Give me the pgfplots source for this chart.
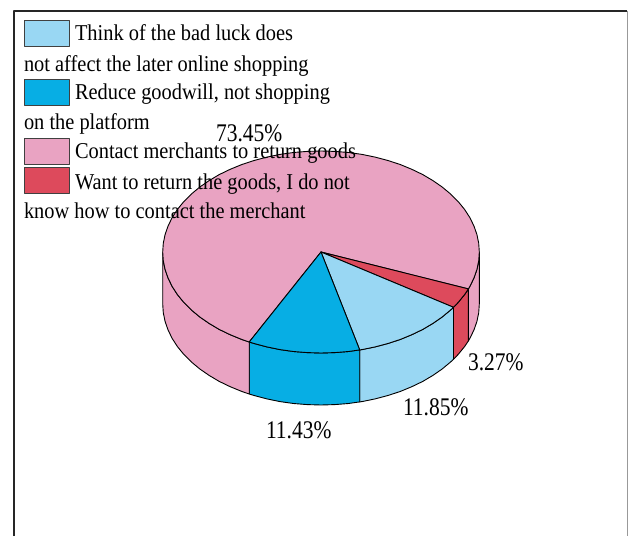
\documentclass[border=0pt]{standalone}
\usepackage{pgfplots}
\pgfplotsset{compat=1.18}
\usepackage{fontspec}
\setmainfont{Liberation Serif}
\definecolor{lightslice}{HTML}{99D7F3}
\definecolor{blueslice}{HTML}{07AEE4}
\definecolor{pinkslice}{HTML}{E9A3C2}
\definecolor{redslice}{HTML}{DD4A5C}
% narrow, tall setting of the serif text
\newcommand{\legtext}[1]{\scalebox{1}[1.11]{#1}}
\newcommand{\valtext}[1]{\scalebox{1}[1.18]{#1}}
\begin{document}
\begin{tikzpicture}
\begin{axis}[
  scale only axis, width=628pt, height=536pt,
  xmin=0, xmax=628, ymin=0, ymax=536, y dir=reverse,
  hide axis, clip=false,
  every axis plot/.append style={line width=0.9pt, line join=round},
]
% page extent
\path (axis cs:0,0) rectangle (axis cs:628,536);
% outer frame
\addplot[black!85, line width=1.4pt] coordinates {(14,536) (14,11) (627,11)};
\addplot[black!40, line width=0.8pt] coordinates {(627,11) (627,536)};

% side walls, bottom edge is the top edge shifted down by 52
\addplot[draw=black, fill=pinkslice] coordinates {
 (479.3,252) (478.7,260.8) (476.9,269.5) (473.9,278.1) (469.8,286.5) (468.4,288.9)
 (468.4,340.9) (469.8,338.5) (473.9,330.1) (476.9,321.5) (478.7,312.8) (479.3,304)} -- cycle;
\addplot[draw=black, fill=redslice] coordinates {
 (468.4,288.9) (464.5,294.7) (458.1,302.5) (453.5,307.3)
 (453.5,359.3) (458.1,354.5) (464.5,346.7) (468.4,340.9)} -- cycle;
\addplot[draw=black, fill=lightslice] coordinates {
 (453.5,307.3) (450.7,309.9) (442.3,316.9) (432.9,323.4) (422.8,329.4) (411.8,334.7)
 (400.2,339.5) (387.9,343.5) (375.1,346.9) (362.0,349.6) (359.7,349.9)
 (359.7,401.9) (362.0,401.6) (375.1,398.9) (387.9,395.5) (400.2,391.5) (411.8,386.7)
 (422.8,381.4) (432.9,375.4) (442.3,368.9) (450.7,361.9) (453.5,359.3)} -- cycle;
\addplot[draw=black, fill=blueslice] coordinates {
 (359.7,349.9) (348.5,351.5) (334.8,352.6) (321,353) (307.2,352.6) (293.5,351.5)
 (280.0,349.6) (266.9,346.9) (254.1,343.5) (249.2,342.0)
 (249.2,394.0) (254.1,395.5) (266.9,398.9) (280.0,401.6) (293.5,403.5) (307.2,404.6)
 (321,405) (334.8,404.6) (348.5,403.5) (359.7,401.9)} -- cycle;
\addplot[draw=black, fill=pinkslice] coordinates {
 (249.2,342.0) (241.9,339.5) (230.2,334.7) (219.2,329.4) (209.1,323.4) (199.7,316.9)
 (191.3,309.9) (183.9,302.5) (177.5,294.7) (172.2,286.5) (168.1,278.1) (165.1,269.5)
 (163.3,260.8) (162.7,252)
 (162.7,304) (163.3,312.8) (165.1,321.5) (168.1,330.1) (172.2,338.5) (177.5,346.7)
 (183.9,354.5) (191.3,361.9) (199.7,368.9) (209.1,375.4) (219.2,381.4) (230.2,386.7)
 (241.9,391.5) (249.2,394.0)} -- cycle;

% top faces: 73.45, 3.27, 11.85 and 11.43 percent
\addplot[draw=black, fill=pinkslice] coordinates {
 (321,252) (249.2,342.0) (241.9,339.5) (230.2,334.7) (219.2,329.4) (209.1,323.4)
 (199.7,316.9) (191.3,309.9) (183.9,302.5) (177.5,294.7) (172.2,286.5) (168.1,278.1)
 (165.1,269.5) (163.3,260.8) (162.7,252) (163.3,243.2) (165.1,234.5) (168.1,225.9)
 (172.2,217.5) (177.5,209.3) (183.9,201.5) (191.3,194.1) (199.7,187.1) (209.1,180.6)
 (219.2,174.6) (230.2,169.3) (241.9,164.5) (254.1,160.5) (266.9,157.1) (280.0,154.4)
 (293.5,152.5) (307.2,151.4) (321,151) (334.8,151.4) (348.5,152.5) (362.0,154.4)
 (375.1,157.1) (387.9,160.5) (400.2,164.5) (411.8,169.3) (422.8,174.6) (432.9,180.6)
 (442.3,187.1) (450.7,194.1) (458.1,201.5) (464.5,209.3) (469.8,217.5) (473.9,225.9)
 (476.9,234.5) (478.7,243.2) (479.3,252) (478.7,260.8) (476.9,269.5) (473.9,278.1)
 (469.8,286.5) (468.4,288.9)} -- cycle;
\addplot[draw=black, fill=redslice] coordinates {
 (321,252) (468.4,288.9) (464.5,294.7) (458.1,302.5) (453.5,307.3)} -- cycle;
\addplot[draw=black, fill=lightslice] coordinates {
 (321,252) (453.5,307.3) (450.7,309.9) (442.3,316.9) (432.9,323.4) (422.8,329.4)
 (411.8,334.7) (400.2,339.5) (387.9,343.5) (375.1,346.9) (362.0,349.6) (359.7,349.9)} -- cycle;
\addplot[draw=black, fill=blueslice] coordinates {
 (321,252) (359.7,349.9) (348.5,351.5) (334.8,352.6) (321,353) (307.2,352.6) (293.5,351.5)
 (280.0,349.6) (266.9,346.9) (254.1,343.5) (249.2,342.0)} -- cycle;

% legend swatches
\addplot[draw=black!75, fill=lightslice] coordinates {(24,20) (69,20) (69,46) (24,46)} -- cycle;
\addplot[draw=black!75, fill=blueslice] coordinates {(24,79) (69,79) (69,105) (24,105)} -- cycle;
\addplot[draw=black!75, fill=pinkslice] coordinates {(24,138) (69,138) (69,164) (24,164)} -- cycle;
\addplot[draw=black!75, fill=redslice] coordinates {(24,167) (69,167) (69,193) (24,193)} -- cycle;

\tikzset{
  lab/.style={anchor=base west, inner sep=0pt, outer sep=0pt, text=black,
    font=\fontsize{21.5}{25}\selectfont},
  leg/.style={lab, font=\fontsize{20.4}{25}\selectfont}}
% legend text
\node[leg] at (axis cs:75,41) {\legtext{Think of the bad luck does}};
\node[leg] at (axis cs:24,72) {\legtext{not affect the later online shopping}};
\node[leg] at (axis cs:75,100) {\legtext{Reduce goodwill, not shopping}};
\node[leg] at (axis cs:24,130) {\legtext{on the platform}};
\node[leg] at (axis cs:75,159) {\legtext{Contact merchants to return goods}};
\node[leg] at (axis cs:75,190) {\legtext{Want to return the goods, I do not}};
\node[leg] at (axis cs:24,219) {\legtext{know how to contact the merchant}};
% slice values
\node[lab] at (axis cs:216,142) {\valtext{73.45\%}};
\node[lab] at (axis cs:468,370) {\valtext{3.27\%}};
\node[lab] at (axis cs:403,415) {\valtext{11.85\%}};
\node[lab] at (axis cs:266,438) {\valtext{11.43\%}};
\end{axis}
\end{tikzpicture}
\end{document}
